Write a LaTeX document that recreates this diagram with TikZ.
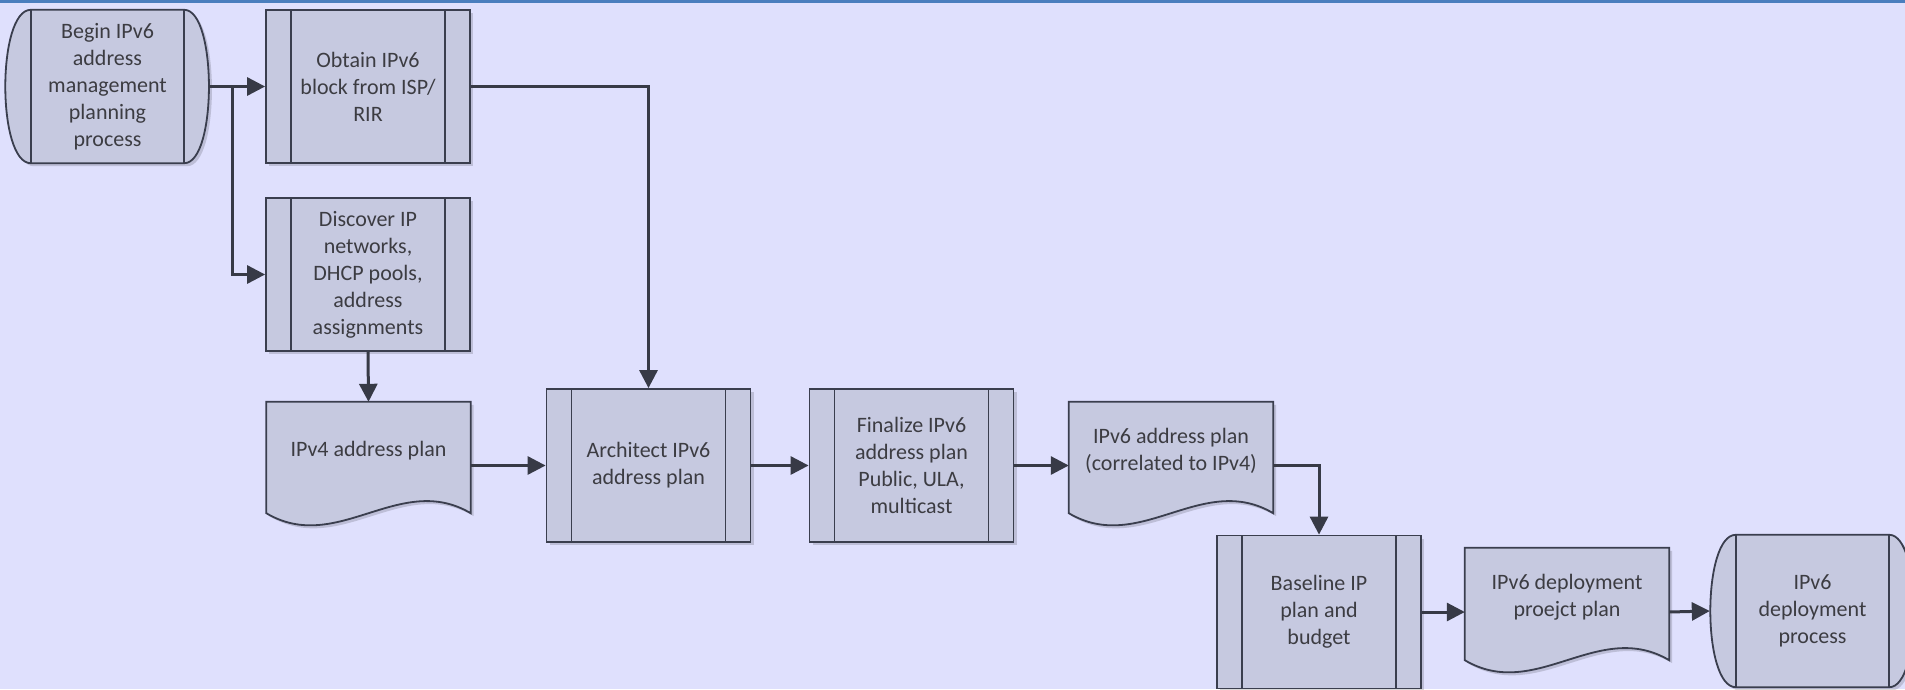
\documentclass[tikz,border=0pt]{standalone}
\usepackage{fontspec}
\setmainfont{Carlito}
\usetikzlibrary{arrows.meta,shadows,calc}
\definecolor{bgc}{RGB}{223,224,253}
\definecolor{boxc}{RGB}{198,201,224}
\definecolor{linec}{RGB}{58,62,78}
\definecolor{arrc}{RGB}{55,58,70}
\definecolor{txtc}{RGB}{60,60,66}
\definecolor{topc}{RGB}{74,126,190}
\pgfdeclarelayer{bgl}
\pgfdeclarelayer{shpl}
\pgfsetlayers{bgl,shpl,main}
\newcommand\docshape[1]{\path[shp] (#1.north west) -- (#1.north east) -- ([shift={(0,14)}]#1.south east) .. controls ([shift={(-71,-28)}]#1.south east) and ([shift={(71,56)}]#1.south west) .. ([shift={(0,14)}]#1.south west) -- cycle;}
\newcommand\termshape[1]{\path[shp] (#1.north west) -- (#1.north east) .. controls ([shift={(33,0)}]#1.north east) and ([shift={(33,0)}]#1.south east) .. (#1.south east) -- (#1.south west) .. controls ([shift={(-34,0)}]#1.south west) and ([shift={(-34,0)}]#1.north west) .. (#1.north west) -- cycle;
\draw[linec, line width=1.8pt] (#1.north west) -- (#1.south west) (#1.north east) -- (#1.south east);}
\begin{document}
\begin{tikzpicture}[x=1pt,y=-1pt,
  txt/.style={text=txtc, font=\fontsize{22}{27}\selectfont, align=center, inner sep=0pt},
  shadowed/.style={drop shadow={shadow xshift=3pt, shadow yshift=-3pt, opacity=0.15, fill=black}},
  procbox/.style={txt, shadowed, draw=linec, fill=boxc, line width=1.8pt, minimum width=204pt, minimum height=153pt,
    path picture={\draw[linec, line width=1.8pt]
      ([xshift=25pt]path picture bounding box.north west) -- ([xshift=25pt]path picture bounding box.south west)
      ([xshift=-25pt]path picture bounding box.north east) -- ([xshift=-25pt]path picture bounding box.south east);}},
  termnode/.style={txt, minimum width=153pt, minimum height=153pt},
  docnode/.style={txt, minimum width=204pt, minimum height=97pt},
  shp/.style={shadowed, draw=linec, fill=boxc, line width=1.8pt},
  flow/.style={draw=arrc, line width=3pt, -{Triangle[length=18pt,width=18pt]}},
]
\begin{pgfonlayer}{bgl}
\fill[bgc] (0,0) rectangle (1905,689);
\fill[topc] (0,0) rectangle (1905,3);
\end{pgfonlayer}
\useasboundingbox (0,0) rectangle (1905,689);

% process boxes
\node[procbox] (obtain) at (368,86.5) {Obtain IPv6\\block from ISP/\\RIR};
\node[procbox] (disc) at (368,274.5) {Discover IP\\networks,\\DHCP pools,\\address\\assignments};
\node[procbox] (arch) at (648.5,465.5) {Architect IPv6\\address plan};
\node[procbox] (fin) at (911.5,465.5) {Finalize IPv6\\address plan\\Public, ULA,\\multicast};
\node[procbox] (base) at (1319,612) {Baseline IP\\plan and\\budget};

% terminators
\node[termnode] (begin) at (107.5,86.5) {Begin IPv6\\address\\management\\planning\\process};
\node[termnode, minimum height=152pt] (dproc) at (1812.5,611) {IPv6\\deployment\\process};

% documents
\node[docnode] (ipv4) at (368.5,450.5) {IPv4 address plan};
\node[docnode] (ipv6) at (1171,450.5) {IPv6 address plan\\(correlated to IPv4)};
\node[docnode, minimum height=98pt] (dep) at (1567,597) {IPv6 deployment\\proejct plan};

\begin{pgfonlayer}{shpl}
\termshape{begin}
\termshape{dproc}
\docshape{ipv4}
\docshape{ipv6}
\docshape{dep}
\end{pgfonlayer}

% connectors
\draw[flow] ([xshift=25pt]begin.east) -- (obtain.west);
\draw[flow] ([xshift=-33pt]obtain.west) |- (disc.west);
\draw[flow] (obtain.east) -| (arch.north);
\draw[flow] (disc.south) -- (ipv4.north);
\draw[flow] (ipv4.east |- arch.west) -- (arch.west);
\draw[flow] (arch.east) -- (fin.west);
\draw[flow] (fin.east) -- (fin.east -| ipv6.west);
\draw[flow] (ipv6.east |- fin.east) -| (base.north);
\draw[flow] (base.east) -- (base.east -| dep.west);
\draw[flow] (base.east -| dep.east) -- ([xshift=-26pt]dproc.west);
\end{tikzpicture}
\end{document}
